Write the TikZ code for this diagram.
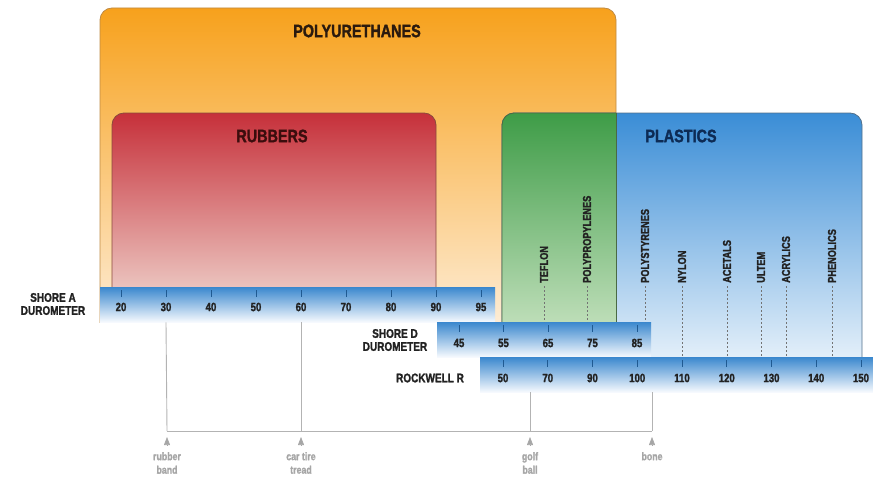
\documentclass[tikz,border=0pt]{standalone}
\usepackage{fontspec}
\setmainfont{Liberation Sans}[FakeStretch=0.8, BoldFeatures={FakeBold=1.6}]
\usetikzlibrary{arrows.meta,positioning}
\definecolor{purtop}{HTML}{F7A11C}
\definecolor{purbot}{HTML}{FEF0DE}
\definecolor{purline}{HTML}{BE8A44}
\definecolor{purtext}{HTML}{2B1A0E}
\definecolor{rubtop}{HTML}{C6303A}
\definecolor{rubbot}{HTML}{F2DED6}
\definecolor{rubline}{HTML}{8A4A3C}
\definecolor{rubtext}{HTML}{3B0D0D}
\definecolor{platop}{HTML}{3A8DD6}
\definecolor{plabot}{HTML}{EFF6FC}
\definecolor{plaline}{HTML}{52708A}
\definecolor{platext}{HTML}{0D2B55}
\definecolor{ovltop}{HTML}{3E9C47}
\definecolor{ovlbot}{HTML}{DDEED4}
\definecolor{ovlline}{HTML}{4A6A44}
\definecolor{bartop}{HTML}{3B88CE}
\definecolor{barbot}{HTML}{F7FAFE}
\definecolor{tickc}{HTML}{1F5A92}
\definecolor{numc}{HTML}{222222}
\definecolor{usec}{HTML}{A6A6A6}
\tikzset{
  family/.style={rounded corners=12pt, line width=0.8pt},
  famtitle/.style={font=\fontsize{18}{18}\selectfont\bfseries, inner sep=0pt},
  bar/.style={top color=bartop, bottom color=barbot, draw=none, inner sep=0pt, anchor=north west},
  barnum/.style={font=\fontsize{12}{12}\selectfont\bfseries, text=numc, inner sep=0pt},
  bartick/.style={draw=tickc, line width=0.9pt},
  barname/.style={font=\fontsize{12.5}{13}\selectfont\bfseries, text=numc, align=center, inner sep=0pt},
  matlabel/.style={font=\fontsize{11.5}{11.5}\selectfont\bfseries, text=numc, rotate=90, anchor=west, inner sep=0pt},
  matline/.style={draw=black!55, dash pattern=on 2pt off 2pt, line width=0.6pt},
  uselabel/.style={font=\fontsize{11}{13.5}\selectfont\bfseries, text=usec, align=center, inner sep=0pt, anchor=north},
  useline/.style={draw=usec!85, line width=0.9pt},
  usetip/.style={-{Triangle[length=8pt,width=6pt]}, draw=usec, fill=usec, line width=0.6pt},
}
\begin{document}
\begin{tikzpicture}[x=1pt,y=-1pt]
  \useasboundingbox (0,0) rectangle (873,495);
  % families
  \begin{scope}
    \clip (0,0) rectangle (873,322);
    \path[family, draw=purline, top color=purtop, bottom color=purbot] (100,8) rectangle (616,340);
  \end{scope}
  \begin{scope}
    \clip (0,0) rectangle (873,300);
    \path[family, draw=rubline, top color=rubtop, bottom color=rubbot] (112,113) rectangle (436,320);
  \end{scope}
  \begin{scope}
    \clip (0,0) rectangle (873,357);
    \path[family, draw=plaline, top color=platop, bottom color=plabot] (502,113) rectangle (862,375);
  \end{scope}
  \begin{scope}
    \clip (100,8) rectangle (616,322);
    \path[family, draw=ovlline, top color=ovltop, bottom color=ovlbot] (502,113) rectangle (862,375);
  \end{scope}
  \draw[ovlline, line width=0.8pt] (616,113) -- (616,322);
  \node[famtitle, text=purtext] (pur) at (357,31) {POLYURETHANES};
  \node[famtitle, text=rubtext] (rub) at (272,136) {RUBBERS};
  \node[famtitle, text=platext] (pla) at (681,136) {PLASTICS};
  % scales
  \node[bar, minimum width=395pt, minimum height=35pt] (sabar) at (100,287) {};
  \node[bar, minimum width=214pt, minimum height=35pt] (sdbar) at (437,322) {};
  \node[bar, minimum width=393pt, minimum height=35pt] (rwbar) at (480,357) {};
  \node[barname] (saname) at (53,304) {SHORE A\\DUROMETER};
  \node[barname] (sdname) at (395,340) {SHORE D\\DUROMETER};
  \node[barname] (rwname) at (430,378) {ROCKWELL R};
  \foreach \v [count=\i from 0] in {20,30,40,50,60,70,80,90,95} {
    \node[barnum] (sa\v) at (121+45*\i,307) {\v};
    \draw[bartick] ([yshift=-3pt]sabar.north -| sa\v) -- ++(0,7);
  }
  \foreach \v [count=\i from 0] in {45,55,65,75,85} {
    \node[barnum] (sd\v) at (459+44.5*\i,343) {\v};
    \draw[bartick] ([yshift=-3pt]sdbar.north -| sd\v) -- ++(0,7);
  }
  \foreach \v [count=\i from 0] in {50,70,90,100,110,120,130,140,150} {
    \node[barnum] (rw\v) at (503+44.75*\i,378) {\v};
    \draw[bartick] ([yshift=-3pt]rwbar.north -| rw\v) -- ++(0,7);
  }
  % materials
  \foreach \mat/\x/\onbar [count=\i] in {TEFLON/544/sd, POLYPROPYLENES/587/sd, POLYSTYRENES/645/sd,
      NYLON/682/rw, ACETALS/727/rw, ULTEM/761/rw, ACRYLICS/786/rw, PHENOLICS/832/rw} {
    \node[matlabel] (mat\i) at (\x,283) {\mat};
    \draw[matline] ([yshift=-3pt]mat\i.west) -- (mat\i.west |- \onbar bar.north);
  }
  % everyday objects
  \coordinate (rail) at (0,431);
  \coordinate (tipbase) at (0,445);
  \coordinate (tipend) at (0,437);
  \node[uselabel] (band) at (167,452) {rubber\\band};
  \node[uselabel] (tread) at (301,452) {car tire\\tread};
  \node[uselabel] (golf) at (530,452) {golf\\ball};
  \node[uselabel] (bone) at (652,452) {bone};
  \draw[useline] (sa30 |- sabar.south) -- (band |- rail);
  \draw[useline] (sa60 |- sabar.south) -- (tread |- rail);
  \draw[useline] (golf |- rwbar.south) -- (golf |- rail);
  \draw[useline] (bone |- rwbar.south) -- (bone |- rail);
  \draw[useline] (band |- rail) -- (bone |- rail);
  \foreach \u in {band,tread,golf,bone}
    \draw[usetip] (\u |- tipbase) -- (\u |- tipend);
\end{tikzpicture}
\end{document}
